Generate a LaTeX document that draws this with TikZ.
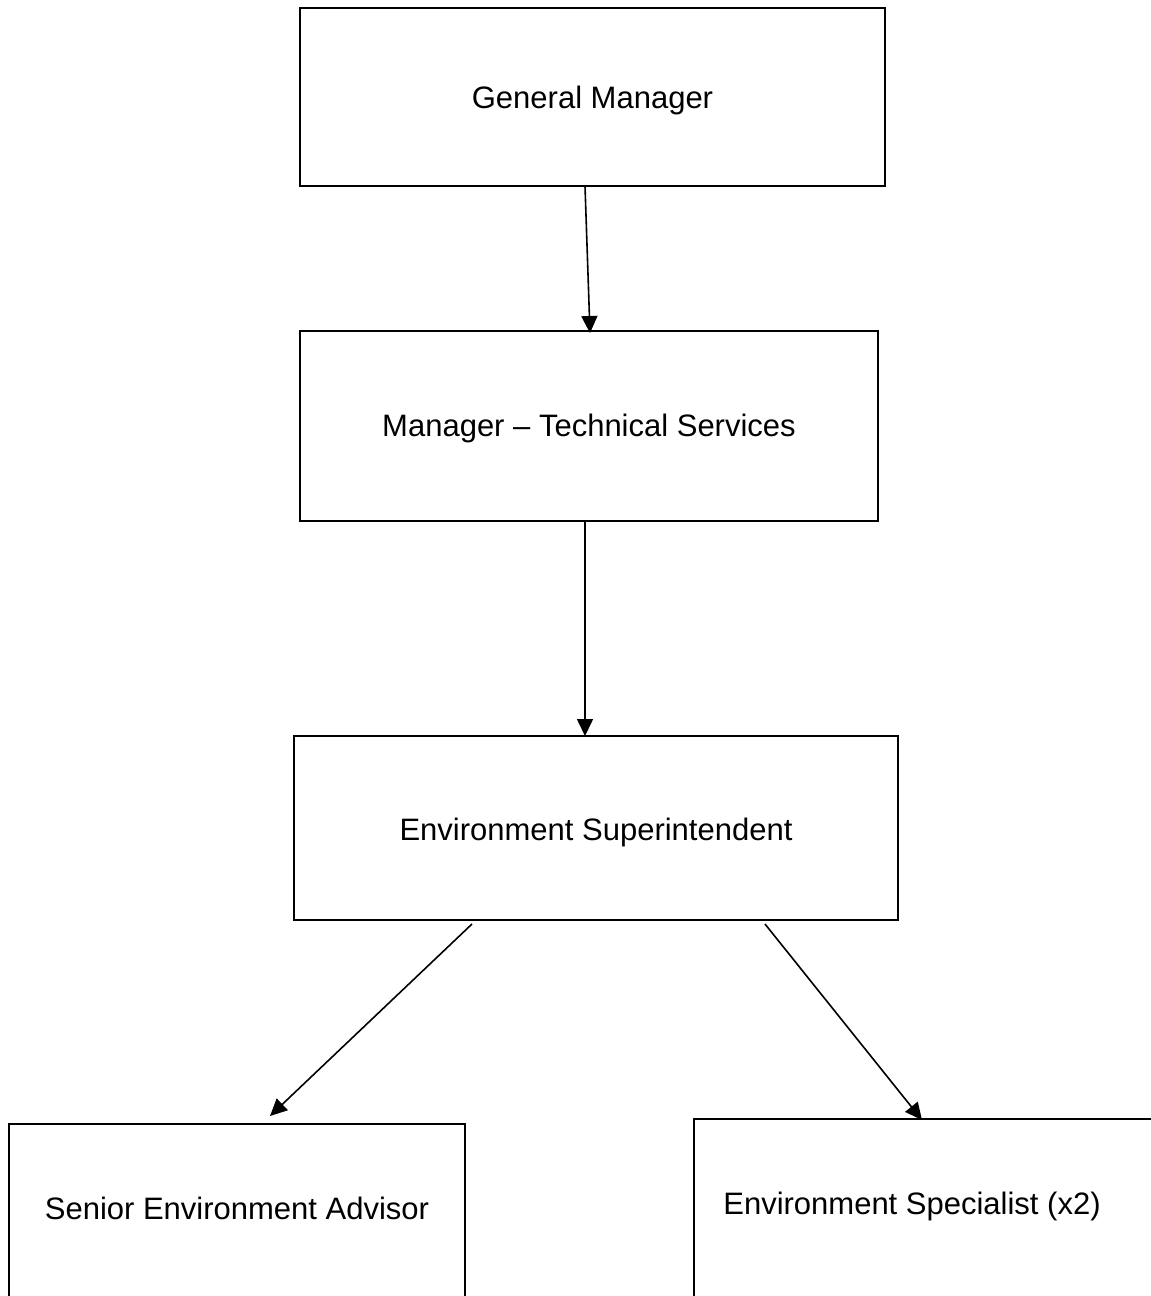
\documentclass[tikz,border=0pt]{standalone}
\usepackage{fontspec}
\setmainfont{Liberation Sans}
\usetikzlibrary{arrows.meta,calc}
\begin{document}
\begin{tikzpicture}[x=1pt,y=-1pt,
  box/.style={draw=black,line width=1.3pt,inner sep=0pt,outer sep=0pt,fill=none},
  lbl/.style={inner sep=0pt,font=\fontsize{31}{37}\selectfont},
  arr/.style={line width=1.6pt,-{Triangle[length=17pt,width=16pt]}}]
\useasboundingbox[fill=white] (0,0) rectangle (1151,1296);
\node[box,minimum width=585pt,minimum height=178pt] (gm) at (592.5,97) {};
\node[lbl] (gmt) at (592.5,100) {General Manager};
\node[box,minimum width=578pt,minimum height=190pt] (mts) at (589,426) {};
\node[lbl] (mtst) at (589,428) {Manager – Technical Services};
\node[box,minimum width=604pt,minimum height=184pt] (es) at (596,828) {};
\node[lbl] (est) at (596,832) {Environment Superintendent};
\node[box,minimum width=456pt,minimum height=236pt] (sea) at (237,1242) {};
\node[lbl] (seat) at (237,1208) {Senior Environment Advisor};
\node[box,minimum width=516pt,minimum height=241pt] (spec) at (952,1239.5) {};
\node[lbl] (spect) at (912,1206) {Environment Specialist (x2)};
\draw[arr] ([xshift=285pt]gm.south west) -- ([xshift=290pt,yshift=-2pt]mts.north west);
\draw[arr] ([xshift=285pt]mts.south west) -- ([xshift=291pt]es.north west);
\draw[arr] ([xshift=178pt,yshift=-4pt]es.south west) -- ([xshift=261pt,yshift=8pt]sea.north west);
\draw[arr] ([xshift=471pt,yshift=-4pt]es.south west) -- ([xshift=228pt,yshift=-1pt]spec.north west);
\end{tikzpicture}
\end{document}
